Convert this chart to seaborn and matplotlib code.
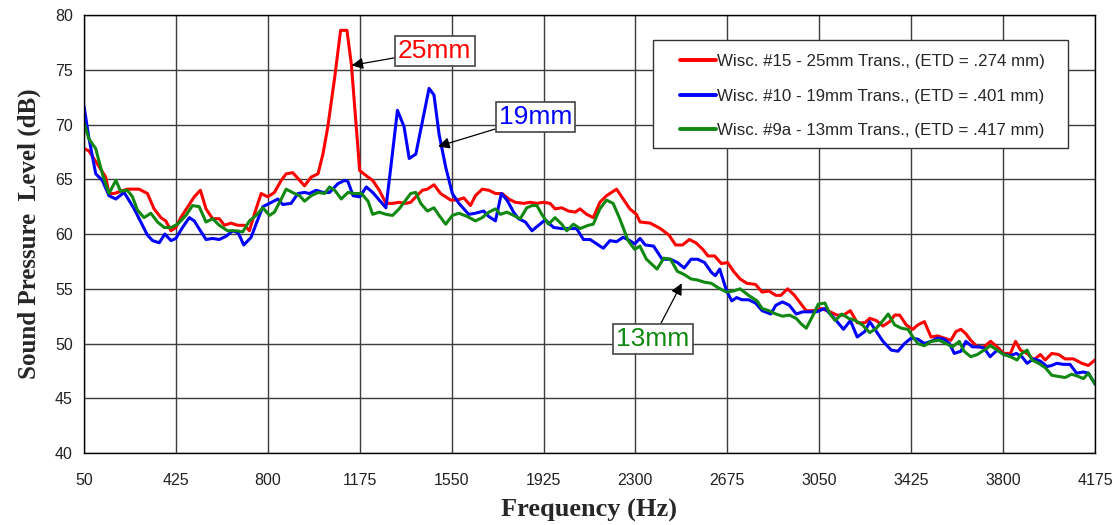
import matplotlib
matplotlib.use("Agg")
import matplotlib.pyplot as plt
from matplotlib.patches import Rectangle
import seaborn as sns
import pandas as pd

# ---------------- data ----------------
red_f = [50, 70, 139, 152, 173, 227, 275, 309, 336, 364, 384, 405, 425, 445, 500, 525, 548, 575, 602, 623,
         650, 677, 705, 725, 745, 773, 800, 827, 855, 875, 902, 930, 950, 977, 1005, 1025, 1045, 1073, 1097, 1123,
         1141, 1175, 1209, 1228, 1255, 1282, 1309, 1336, 1363, 1383, 1404, 1431, 1451, 1478, 1505, 1526, 1546, 1573,
         1600, 1627, 1647, 1675, 1702, 1729, 1756, 1783, 1810, 1844, 1871, 1898, 1925, 1952, 1972, 1999, 2027, 2054,
         2074, 2101, 2128, 2155, 2182, 2223, 2250, 2277, 2304, 2319, 2360, 2402, 2437, 2464, 2492, 2520, 2547, 2575,
         2596, 2623, 2651, 2676, 2700, 2727, 2755, 2790, 2817, 2845, 2873, 2893, 2921, 2949, 2976, 2997, 3025, 3059,
         3094, 3122, 3149, 3177, 3205, 3236, 3256, 3283, 3310, 3337, 3358, 3378, 3405, 3432, 3452, 3479, 3506, 3533,
         3560, 3587, 3608, 3628, 3648, 3668, 3695, 3722, 3749, 3776, 3803, 3830, 3851, 3871, 3898, 3925, 3952, 3972,
         3999, 4026, 4053, 4087, 4121, 4148, 4175]
red_db = [67.8, 67.6, 65.2, 63.7, 63.7, 64.1, 64.1, 63.7, 62.3, 61.5, 61.2, 60.3, 60.6, 61.5, 63.4, 64.0, 62.3, 61.4, 61.4, 60.8,
          61.0, 60.8, 60.8, 60.3, 61.8, 63.7, 63.4, 63.8, 64.9, 65.5, 65.6, 64.9, 64.4, 65.2, 65.5, 67.3, 69.8, 74.3, 78.6, 78.6,
          75.5, 65.8, 65.2, 64.9, 64.0, 62.8, 62.8, 62.9, 62.8, 62.9, 63.4, 64.0, 64.1, 64.5, 63.7, 63.4, 63.1, 63.1,
          63.3, 62.6, 63.5, 64.1, 64.0, 63.7, 63.7, 63.2, 62.9, 62.8, 62.9, 62.8, 62.9, 62.8, 62.3, 62.4, 62.1, 62.0,
          62.3, 61.8, 61.5, 62.9, 63.5, 64.1, 63.2, 62.3, 61.8, 61.1, 61.0, 60.5, 59.9, 59.0, 59.0, 59.5, 59.2, 58.6,
          58.0, 58.0, 57.3, 57.4, 56.6, 55.9, 55.5, 55.4, 54.7, 54.8, 54.4, 54.4, 55.0, 54.4, 53.6, 53.0, 53.0, 53.2,
          52.9, 52.6, 52.6, 53.0, 51.9, 51.9, 52.3, 52.1, 51.6, 52.0, 52.6, 52.6, 51.7, 51.3, 51.7, 52.0, 50.6, 50.7,
          50.5, 50.3, 51.1, 51.3, 50.9, 50.3, 49.7, 49.7, 50.2, 49.7, 49.1, 49.1, 50.2, 49.4, 49.1, 48.5, 49.0, 48.5,
          49.1, 49.0, 48.6, 48.6, 48.2, 48.0, 48.5]

blue_f = [50, 70, 98, 125, 152, 180, 214, 255, 282, 309, 330, 357, 380, 405, 425, 452, 480, 500, 525, 548,
          575, 602, 630, 657, 680, 702, 732, 752, 780, 807, 841, 861, 895, 923, 950, 970, 998, 1025, 1052, 1086,
          1114, 1127, 1148, 1175, 1202, 1228, 1255, 1282, 1302, 1329, 1356, 1377, 1404, 1431, 1458, 1478, 1499, 1526,
          1553, 1580, 1620, 1647, 1681, 1702, 1729, 1753, 1776, 1803, 1823, 1851, 1878, 1905, 1932, 1966, 1999, 2027,
          2060, 2088, 2115, 2142, 2169, 2196, 2223, 2250, 2277, 2297, 2319, 2340, 2374, 2409, 2443, 2471, 2499, 2527,
          2554, 2582, 2610, 2626, 2644, 2672, 2693, 2713, 2734, 2762, 2790, 2817, 2852, 2873, 2900, 2928, 2956, 2983,
          3011, 3039, 3073, 3108, 3149, 3177, 3205, 3236, 3256, 3283, 3310, 3344, 3371, 3398, 3425, 3452, 3479, 3506,
          3533, 3560, 3581, 3601, 3628, 3648, 3675, 3702, 3722, 3747, 3776, 3803, 3830, 3854, 3877, 3898, 3925, 3952,
          3979, 3999, 4019, 4046, 4073, 4100, 4128, 4148, 4175]
blue_db = [71.7, 68.8, 65.5, 64.9, 63.5, 63.2, 63.8, 62.3, 61.1, 59.9, 59.4, 59.2, 60.0, 59.4, 59.6, 60.6, 61.5, 61.2, 60.3, 59.5,
           59.6, 59.5, 59.8, 60.3, 60.1, 59.0, 59.7, 60.9, 62.5, 62.8, 63.2, 62.7, 62.8, 63.7, 63.8, 63.7, 64.0, 63.8, 63.8, 64.6,
           64.9, 64.8, 63.5, 63.4, 64.3, 63.8, 63.1, 62.4, 66.1, 71.3, 69.8, 66.9, 67.3, 70.3, 73.3, 72.7, 69.1, 66.1,
           63.7, 62.8, 61.8, 61.9, 62.1, 61.6, 61.2, 63.7, 63.1, 62.0, 61.4, 61.1, 60.3, 60.8, 61.3, 60.6, 60.5, 60.5,
           60.5, 59.5, 59.5, 59.1, 58.7, 59.4, 59.3, 59.7, 59.4, 59.1, 59.6, 59.0, 58.9, 57.7, 57.7, 57.4, 56.9, 57.7,
           57.7, 57.4, 56.5, 56.2, 56.8, 54.8, 53.9, 54.2, 54.0, 54.0, 53.7, 53.0, 52.7, 53.5, 53.8, 53.5, 52.7, 52.9,
           52.9, 52.9, 53.2, 52.4, 51.3, 52.1, 50.6, 51.1, 52.0, 51.1, 50.2, 49.4, 49.3, 50.0, 50.5, 50.4, 50.0, 50.2,
           50.5, 50.4, 50.0, 49.1, 49.3, 50.2, 49.7, 49.7, 49.6, 48.8, 49.4, 49.0, 48.9, 49.1, 48.8, 48.2, 48.6, 48.4,
           47.9, 48.0, 48.2, 48.1, 48.1, 47.3, 47.4, 47.3, 46.3]

green_f = [50, 70, 98, 125, 152, 180, 200, 227, 248, 268, 295, 323, 350, 377, 405, 432, 466, 493, 520, 548,
           575, 602, 636, 670, 698, 725, 752, 780, 807, 827, 855, 875, 909, 930, 950, 977, 1005, 1032, 1052, 1073,
           1100, 1127, 1155, 1182, 1209, 1228, 1255, 1282, 1309, 1336, 1363, 1383, 1404, 1424, 1451, 1478, 1499, 1526,
           1553, 1580, 1614, 1647, 1675, 1702, 1729, 1749, 1776, 1803, 1830, 1857, 1878, 1898, 1918, 1945, 1972, 1999,
           2020, 2047, 2074, 2108, 2128, 2155, 2182, 2209, 2236, 2270, 2297, 2318, 2345, 2388, 2416, 2443, 2471, 2499,
           2527, 2554, 2582, 2610, 2637, 2672, 2700, 2727, 2762, 2796, 2817, 2845, 2873, 2900, 2928, 2956, 2976, 2997,
           3025, 3046, 3073, 3094, 3115, 3142, 3170, 3198, 3226, 3256, 3283, 3310, 3331, 3358, 3385, 3412, 3432, 3452,
           3479, 3506, 3540, 3567, 3594, 3621, 3641, 3668, 3695, 3722, 3749, 3776, 3803, 3830, 3857, 3877, 3898, 3918,
           3945, 3972, 3999, 4026, 4053, 4080, 4107, 4128, 4148, 4175]
green_db = [70.2, 68.7, 67.8, 65.5, 63.7, 64.9, 63.9, 64.0, 63.4, 62.2, 61.5, 61.9, 61.1, 60.6, 60.6, 60.9, 61.7, 62.6, 62.5, 61.1,
            61.4, 60.8, 60.3, 60.3, 60.2, 61.2, 61.7, 62.4, 61.7, 62.0, 63.2, 64.1, 63.7, 63.5, 63.0, 63.5, 63.8, 63.7, 64.3, 64.0,
            63.2, 63.8, 63.7, 63.7, 63.0, 61.8, 62.0, 61.8, 61.7, 62.3, 63.1, 63.7, 63.8, 62.8, 62.1, 62.4, 61.7, 60.9,
            61.7, 61.9, 61.6, 61.2, 61.5, 62.0, 62.3, 61.8, 62.0, 61.7, 61.4, 62.4, 62.6, 62.6, 61.8, 60.9, 61.5, 60.9,
            60.3, 60.9, 60.5, 60.8, 60.9, 62.3, 63.1, 62.8, 61.4, 59.4, 58.6, 58.9, 57.7, 56.8, 57.8, 57.7, 56.6, 56.3,
            55.9, 55.8, 55.6, 55.5, 55.1, 54.7, 54.8, 55.0, 54.4, 53.9, 53.2, 53.0, 52.7, 52.5, 52.6, 52.3, 51.8, 51.4,
            52.6, 53.6, 53.7, 52.7, 52.1, 52.7, 52.3, 52.1, 51.7, 51.0, 51.4, 52.1, 52.7, 51.7, 51.4, 51.3, 50.6, 50.0,
            49.8, 50.2, 50.3, 50.0, 49.7, 50.2, 49.3, 48.8, 49.0, 49.4, 49.8, 49.4, 49.0, 48.8, 48.5, 49.1, 49.4, 48.5,
            48.2, 47.8, 47.1, 47.0, 46.9, 47.2, 47.0, 46.8, 47.3, 46.3]

series_labels = ["Wisc. #15 - 25mm Trans., (ETD = .274 mm)",
                 "Wisc. #10 - 19mm Trans., (ETD = .401 mm)",
                 "Wisc. #9a - 13mm Trans., (ETD = .417 mm)"]
series_colors = ["#ff0000", "#0000ff", "#118811"]

x_ticks = [50, 425, 800, 1175, 1550, 1925, 2300, 2675, 3050, 3425, 3800, 4175]
y_ticks = [40, 45, 50, 55, 60, 65, 70, 75, 80]

ann_texts = ["25mm", "19mm", "13mm"]
ann_targets = [(1142, 75.4), (1495, 68.0), (2489, 55.5)]
ann_text_pos = [(1481, 76.73), (1892, 70.71), (2371, 50.43)]

# ---------------- plot ----------------
sns.set_style("white")
plt.rcParams["font.family"] = ["Liberation Sans", "DejaVu Sans"]

fig = plt.figure(figsize=(11.12, 5.25), dpi=100)
ax = fig.add_axes([0.0755, 0.137, 0.9092, 0.8344])

for f, d, lab, col in zip([red_f, blue_f, green_f], [red_db, blue_db, green_db], series_labels, series_colors):
    df = pd.DataFrame({"freq": f, "db": d})
    sns.lineplot(data=df, x="freq", y="db", ax=ax, color=col, lw=2.2, label=lab,
                 estimator=None, sort=False)

ax.set_xlim(50, 4175)
ax.set_ylim(40, 80)
ax.set_xticks(x_ticks)
ax.set_yticks(y_ticks)
ax.set_xticklabels([str(t) for t in x_ticks], fontsize=11.5, color="#222222")
ax.set_yticklabels([str(t) for t in y_ticks], fontsize=11.5, color="#222222")
ax.tick_params(axis="x", direction="out", length=4, pad=10, color="black")
ax.tick_params(axis="y", direction="out", length=4, pad=4, color="black")
ax.grid(True, color="#3c3c3c", lw=1.0)
ax.set_axisbelow(True)
for s in ax.spines.values():
    s.set_color("black")
    s.set_linewidth(1.0)

ax.set_xlabel("Frequency (Hz)", fontsize=19, fontweight="bold", family="Liberation Serif", labelpad=8)
ax.set_ylabel("Sound Pressure  Level (dB)", fontsize=18, fontweight="bold", family="Liberation Serif", labelpad=10)

for txt, tgt, pos, col in zip(ann_texts, ann_targets, ann_text_pos, series_colors):
    ax.annotate(txt, xy=tgt, xytext=pos, ha="center", va="center", fontsize=19, color=col,
                bbox=dict(boxstyle="square,pad=0.12", fc="white", ec="#444444", lw=1.2),
                arrowprops=dict(arrowstyle="-|>", color="black", lw=0.9, mutation_scale=17,
                                shrinkA=0, shrinkB=0))

# legend frame (white box with dark border)
ax.add_patch(Rectangle((0.5628, 0.6963), 0.4105, 0.2466, transform=ax.transAxes,
                       fc="white", ec="#333333", lw=1.0, zorder=4.5))
leg = ax.legend(loc="upper left", bbox_to_anchor=(0.5895, 0.9105), fontsize=12.2, frameon=False,
                borderpad=0, labelspacing=1.15, handlelength=2.1, handletextpad=0.1, borderaxespad=0)
leg.set_zorder(5)
for line in leg.get_lines():
    line.set_linewidth(2.8)

fig.savefig("out.png", dpi=100)
